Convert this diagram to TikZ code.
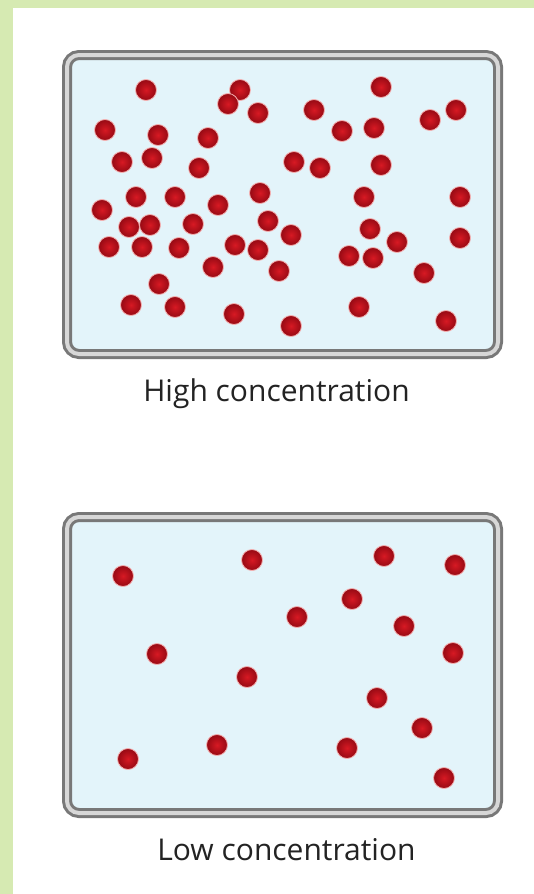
\documentclass[tikz,border=0pt]{standalone}
\usepackage{fontspec}
\setmainfont{Open Sans}
\definecolor{bggreen}{RGB}{214,234,178}
\definecolor{tankblue}{RGB}{227,244,250}
\definecolor{tankgray}{RGB}{120,120,120}
\definecolor{tanklight}{RGB}{215,215,215}
\definecolor{molred}{RGB}{215,25,35}
\definecolor{moldark}{RGB}{150,10,20}
\definecolor{molhalo}{RGB}{245,175,175}
\definecolor{labelgray}{RGB}{35,35,35}

\begin{document}
\begin{tikzpicture}[x=1pt,y=-1pt,
  tank/.style={draw=tankgray,double=tanklight,double distance=4pt,line width=3pt,rounded corners=12pt,fill=tankblue,inner sep=0pt},
  mol/.style={circle,minimum size=21pt,inner sep=0pt,inner color=molred,outer color=moldark,draw=molhalo,line width=0.8pt},
  lbl/.style={font=\fontsize{30}{34}\selectfont,text=labelgray,anchor=base,inner sep=0pt}]
  \useasboundingbox (0,0) rectangle (534,894);
  % Frame
  \fill[bggreen] (0,0) rectangle (534,894);
  \fill[white] (13,8) rectangle (534,894);
  % High concentration
  \node[tank,minimum width=431pt,minimum height=299pt] (hitank) at (282.5,204.5) {};
  \foreach \x/\y [count=\i] in {146/90,240/90,228/104,258/113,381/87,314/110,342/131,374/128,430/120,456/110,
    105/130,158/135,208/138,122/162,152/158,199/168,294/162,320/168,381/165,136/197,
    175/197,218/205,260/193,364/197,460/197,102/210,129/227,150/225,193/224,268/221,
    291/235,370/229,397/242,460/238,109/247,142/247,179/248,235/245,258/250,349/256,
    373/258,213/267,279/271,424/273,159/284,131/305,175/307,234/314,291/326,359/307,446/321}
    \node[mol] (hi\i) at (\x,\y) {};
  \node[lbl] (hilabel) at (276.5,401) {High concentration};
  % Low concentration
  \node[tank,minimum width=431pt,minimum height=296pt] (lotank) at (282.5,665) {};
  \foreach \x/\y [count=\i] in {123/576,252/560,384/556,455/565,352/599,297/617,404/626,157/654,
    453/653,247/677,377/698,422/728,217/745,347/748,128/759,444/778}
    \node[mol] (lo\i) at (\x,\y) {};
  \node[lbl] (lolabel) at (286.5,860) {Low concentration};
\end{tikzpicture}
\end{document}
